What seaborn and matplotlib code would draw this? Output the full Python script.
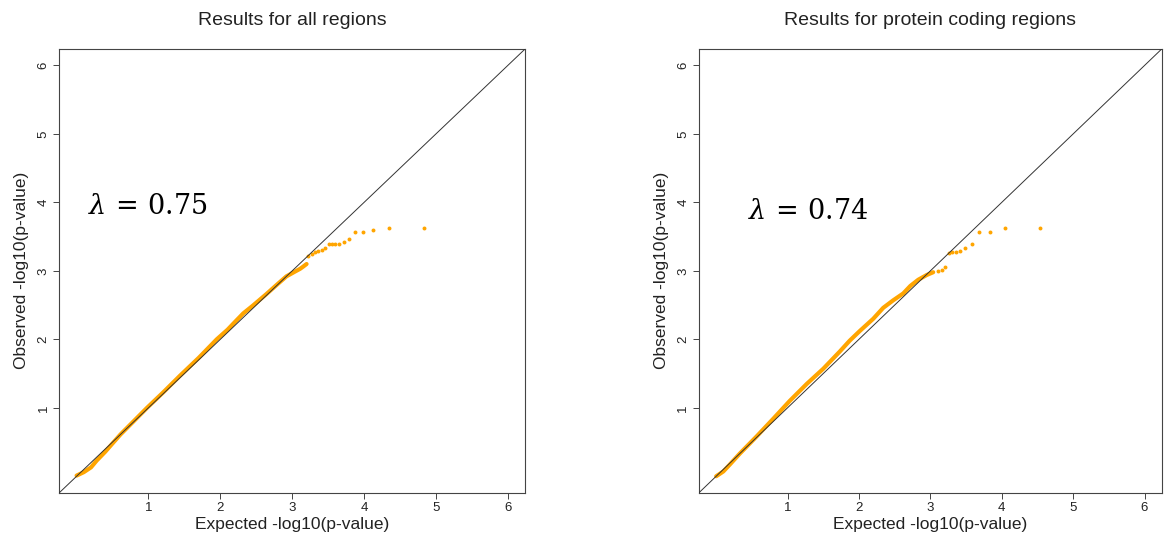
import numpy as np
import pandas as pd
import matplotlib
matplotlib.use("Agg")
import matplotlib.pyplot as plt
import seaborn as sns

# ---- data (expected vs observed -log10 p) ----
titles = ["Results for all regions", "Results for protein coding regions"]
lambda_labels = [r"$\lambda\,=\,0.75$", r"$\lambda\,=\,0.74$"]

# left panel: dense body of points
exp_body_all = [0.0, 0.10, 0.20, 0.28, 0.40, 0.50, 0.61, 0.80, 0.98, 1.20, 1.44, 1.70,
                1.95, 2.10, 2.20, 2.32, 2.45, 2.64, 2.80, 2.92, 3.04, 3.11, 3.15, 3.20]
obs_body_all = [0.01, 0.06, 0.13, 0.23, 0.36, 0.48, 0.61, 0.81, 1.00, 1.22, 1.47, 1.73,
                2.00, 2.14, 2.25, 2.38, 2.49, 2.66, 2.81, 2.92, 2.99, 3.03, 3.06, 3.10]
# left panel: separate top points
exp_tail_all = [4.83, 4.35, 4.13, 3.99, 3.88, 3.79, 3.72, 3.65, 3.60, 3.55, 3.51,
                3.46, 3.41, 3.36, 3.32, 3.27, 3.22]
obs_tail_all = [3.63, 3.63, 3.59, 3.57, 3.57, 3.47, 3.42, 3.39, 3.39, 3.39, 3.39,
                3.34, 3.31, 3.29, 3.27, 3.25, 3.21]

# right panel
exp_body_pc = [0.0, 0.10, 0.19, 0.33, 0.565, 0.80, 1.03, 1.27, 1.50, 1.73, 1.87, 2.01,
               2.20, 2.34, 2.48, 2.62, 2.72, 2.83, 2.95, 3.04]
obs_body_pc = [0.0, 0.07, 0.17, 0.33, 0.58, 0.84, 1.10, 1.35, 1.57, 1.82, 1.98, 2.12,
               2.30, 2.46, 2.57, 2.67, 2.78, 2.87, 2.94, 2.98]
exp_tail_pc = [4.53, 4.05, 3.83, 3.68, 3.58, 3.49, 3.42, 3.36, 3.30, 3.26, 3.21, 3.16, 3.11]
obs_tail_pc = [3.63, 3.63, 3.57, 3.57, 3.39, 3.34, 3.29, 3.28, 3.28, 3.26, 3.06, 3.01, 3.00]

ticks = [1, 2, 3, 4, 5, 6]
lims = (-0.24, 6.24)
lambda_pos = [(0.16, 3.93), (0.44, 3.86)]

sns.set_theme(style="white")
plt.rcParams["font.family"] = ["Liberation Sans", "DejaVu Sans"]
plt.rcParams["mathtext.fontset"] = "dejavuserif"

fig = plt.figure(figsize=(11.66, 5.44), dpi=100)
ax_rects = [[0.0509, 0.0943, 0.3994, 0.8156], [0.5995, 0.0943, 0.3968, 0.8156]]

panels = [
    (exp_body_all, obs_body_all, exp_tail_all, obs_tail_all),
    (exp_body_pc, obs_body_pc, exp_tail_pc, obs_tail_pc),
]

orange = "#FFA500"
for k, (eb, ob, et, ot) in enumerate(panels):
    ax = fig.add_axes(ax_rects[k])
    body = pd.DataFrame({"expected": eb, "observed": ob})
    tail = pd.DataFrame({"expected": et, "observed": ot})
    ax.plot(lims, lims, color="#333333", lw=0.7, zorder=3)
    sns.lineplot(data=body, x="expected", y="observed", ax=ax, color=orange,
                 lw=3.0, sort=False, estimator=None, zorder=2)
    sns.scatterplot(data=tail, x="expected", y="observed", ax=ax, color=orange,
                    s=8, linewidth=0, zorder=2)
    ax.set_xlim(lims)
    ax.set_ylim(lims)
    ax.set_xticks(ticks)
    ax.set_yticks(ticks)
    ax.set_xticklabels([str(t) for t in ticks], fontsize=9.5)
    ax.set_yticklabels([str(t) for t in ticks], fontsize=9.5, rotation=90, va="center")
    ax.tick_params(axis="both", direction="out", length=4, width=0.7, color="#444444",
                   labelcolor="#222222", pad=3, bottom=True, left=True)
    for sp in ax.spines.values():
        sp.set_color("#444444")
        sp.set_linewidth(0.8)
        sp.set_visible(True)
    ax.set_xlabel("Expected -log10(p-value)", fontsize=12.5, color="#222222", labelpad=2)
    ax.set_ylabel("Observed -log10(p-value)", fontsize=12.5, color="#222222", labelpad=6)
    ax.set_title(titles[k], fontsize=14, color="#222222", pad=17)
    ax.text(lambda_pos[k][0], lambda_pos[k][1], lambda_labels[k], fontsize=19.5,
            color="black", ha="left", va="center")

fig.savefig("out.png", dpi=100)
